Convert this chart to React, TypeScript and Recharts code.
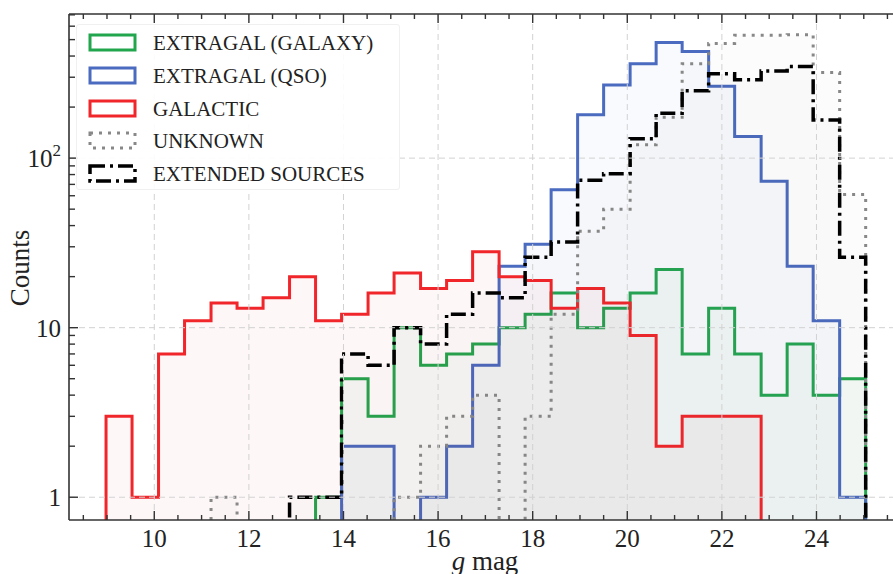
import React from "react";
import { ComposedChart, Area, XAxis, YAxis, ReferenceLine, Legend } from "recharts";

// bin edges of the g-band histograms (29 bins)
const BIN_EDGES = [
  8.98, 9.53, 10.09, 10.64, 11.2, 11.75, 12.3, 12.86, 13.41, 13.96, 14.52, 15.07, 15.63, 16.18, 16.73,
  17.29, 17.84, 18.39, 18.95, 19.5, 20.06, 20.61, 21.16, 21.72, 22.27, 22.83, 23.38, 23.93, 24.49, 25.04,
];

const GALAXY = [0, 0, 0, 0, 0, 0, 0, 0, 1, 5, 3, 10, 6, 7, 8, 10, 12, 16, 10, 13, 16, 22, 7, 13, 7, 4, 8, 4, 5];
const QSO = [0, 0, 0, 0, 0, 0, 0, 0, 0, 2, 2, 0, 1, 2, 6, 23, 31, 65, 180, 270, 360, 480, 425, 265, 134, 73, 23, 11, 1];
const GALACTIC = [3, 1, 7, 11, 14, 13, 15, 20, 11, 12, 16, 21, 17, 19, 28, 20, 19, 13, 17, 14, 9, 2, 3, 3, 3, 0, 0, 0, 0];
const UNKNOWN = [0, 0, 0, 0, 1, 0, 0, 0, 0, 0, 0, 1, 2, 3, 4, 0, 3, 12, 37, 50, 120, 174, 360, 475, 530, 530, 535, 320, 61];
const EXTENDED = [0, 0, 0, 0, 0, 0, 0, 1, 1, 7, 6, 10, 8, 12, 16, 15, 26, 32, 74, 81, 130, 184, 250, 314, 290, 327, 347, 168, 26];

const X_TICKS = [
  8.5, 9, 9.5, 10, 10.5, 11, 11.5, 12, 12.5, 13, 13.5, 14, 14.5, 15, 15.5, 16, 16.5, 17, 17.5, 18, 18.5,
  19, 19.5, 20, 20.5, 21, 21.5, 22, 22.5, 23, 23.5, 24, 24.5, 25, 25.5, 26,
];
const X_MAJOR = [10, 12, 14, 16, 18, 20, 22, 24];
const Y_TICKS = [1, 2, 3, 4, 5, 6, 7, 8, 9, 10, 20, 30, 40, 50, 60, 70, 80, 90, 100, 200, 300, 400, 500, 600, 700];
const Y_MAJOR = [1, 10, 100];

const SERIES = [
  { key: "galaxy", name: "EXTRAGAL (GALAXY)", values: GALAXY, color: "#22a64d", fill: "#22a64d", fillOpacity: 0.035, dash: undefined, width: 3 },
  { key: "qso", name: "EXTRAGAL (QSO)", values: QSO, color: "#4a6bbf", fill: "#4a6bbf", fillOpacity: 0.035, dash: undefined, width: 3 },
  { key: "galactic", name: "GALACTIC", values: GALACTIC, color: "#f0262b", fill: "#f0262b", fillOpacity: 0.035, dash: undefined, width: 3 },
  { key: "unknown", name: "UNKNOWN", values: UNKNOWN, color: "#888888", fill: "#808080", fillOpacity: 0.025, dash: "3 6", width: 3 },
  { key: "extended", name: "EXTENDED SOURCES", values: EXTENDED, color: "#000000", fill: "#000000", fillOpacity: 0.012, dash: "15 5 3 5", width: 3.5 },
];

const X_DOMAIN = [8.197, 26.4];
const Y_DOMAIN = [0.734, 708];
const FLOOR = 0.3; // empty bins drop below the log axis
const FONT = "'Liberation Serif', 'Times New Roman', serif";
const AXIS = "#333";

// step outline: rise from the floor at the first edge, drop to it at the last one
const floorRow: Record<string, number> = { x: BIN_EDGES[0] };
SERIES.forEach((s) => (floorRow[s.key] = FLOOR));
const rows = [floorRow];
BIN_EDGES.slice(0, -1).forEach((edge, i) => {
  const r: Record<string, number> = { x: edge };
  SERIES.forEach((s) => (r[s.key] = s.values[i] > 0 ? s.values[i] : FLOOR));
  rows.push(r);
});
const lastRow: Record<string, number> = { x: BIN_EDGES[BIN_EDGES.length - 1] };
SERIES.forEach((s) => (lastRow[s.key] = FLOOR));
rows.push(lastRow);

function BottomTick(p: any) {
  const major = X_MAJOR.includes(p.payload.value);
  return (
    <g>
      <line x1={p.x} x2={p.x} y1={p.y} y2={p.y - (major ? 9 : 5)} stroke={AXIS} strokeWidth={1.4} />
      {major && (
        <text x={p.x} y={p.y + 27} textAnchor="middle" fontFamily={FONT} fontSize={25} fill="#222">
          {p.payload.value}
        </text>
      )}
    </g>
  );
}

function TopTick(p: any) {
  const major = X_MAJOR.includes(p.payload.value);
  return <line x1={p.x} x2={p.x} y1={p.y} y2={p.y + (major ? 9 : 5)} stroke={AXIS} strokeWidth={1.4} />;
}

function LeftTick(p: any) {
  const v = p.payload.value;
  const major = Y_MAJOR.includes(v);
  return (
    <g>
      <line x1={p.x} x2={p.x + (major ? 9 : 6)} y1={p.y} y2={p.y} stroke={AXIS} strokeWidth={1.4} />
      {major && (
        <text x={p.x - 8} y={p.y + 9} textAnchor="end" fontFamily={FONT} fontSize={25} fill="#222">
          {v === 100 ? (
            <>
              10
              <tspan dy={-11} fontSize={17}>2</tspan>
            </>
          ) : (
            v
          )}
        </text>
      )}
    </g>
  );
}

function LegendBox() {
  return (
    <div
      style={{
        position: "relative",
        width: 324,
        height: 166,
        background: "rgba(255,255,255,0.9)",
        border: "1px solid #f0f0f0",
        borderRadius: 3,
        boxSizing: "border-box",
      }}
    >
      {SERIES.map((s, i) => (
        <div key={s.key} style={{ position: "absolute", left: 11, top: 7 + i * 32.8, height: 22, display: "flex", alignItems: "center" }}>
          <svg width={49} height={20} style={{ display: "block" }}>
            <rect x={2} y={2} width={45} height={15} fill="none" stroke={s.color} strokeWidth={s.width} strokeDasharray={s.dash} />
          </svg>
          <span style={{ marginLeft: 16, fontFamily: FONT, fontSize: 21, color: "#222", whiteSpace: "nowrap", lineHeight: "22px" }}>
            {s.name}
          </span>
        </div>
      ))}
    </div>
  );
}

export default function App() {
  return (
    <div style={{ position: "fixed", left: 0, top: 0, width: 893, height: 574, overflow: "hidden", background: "#fff" }}>
      <ComposedChart width={930} height={574} data={rows} margin={{ top: 0, right: 0, bottom: 0, left: 0 }}>
        <XAxis
          dataKey="x"
          type="number"
          domain={X_DOMAIN}
          allowDataOverflow
          ticks={X_TICKS}
          interval={0}
          tickSize={0}
          tickMargin={0}
          tickLine={false}
          tick={(p: any) => <BottomTick {...p} />}
          axisLine={{ stroke: AXIS, strokeWidth: 1.6 }}
          height={54}
        />
        <XAxis
          xAxisId="top"
          orientation="top"
          dataKey="x"
          type="number"
          domain={X_DOMAIN}
          allowDataOverflow
          ticks={X_TICKS}
          interval={0}
          tickSize={0}
          tickMargin={0}
          tickLine={false}
          tick={(p: any) => <TopTick {...p} />}
          axisLine={{ stroke: AXIS, strokeWidth: 1.6 }}
          height={14}
        />
        <YAxis
          type="number"
          scale="log"
          domain={Y_DOMAIN}
          allowDataOverflow
          ticks={Y_TICKS}
          interval={0}
          tickSize={0}
          tickMargin={0}
          tickLine={false}
          tick={(p: any) => <LeftTick {...p} />}
          axisLine={{ stroke: AXIS, strokeWidth: 1.6 }}
          width={69}
        />
        {X_MAJOR.map((v) => (
          <ReferenceLine key={"gx" + v} x={v} stroke="#d2d2d2" strokeDasharray="6 4" strokeWidth={1} />
        ))}
        {Y_MAJOR.map((v) => (
          <ReferenceLine key={"gy" + v} y={v} stroke="#d2d2d2" strokeDasharray="6 4" strokeWidth={1} />
        ))}
        {SERIES.map((s) => (
          <Area
            key={s.key}
            dataKey={s.key}
            name={s.name}
            type="stepAfter"
            baseValue={Y_DOMAIN[0]}
            stroke={s.color}
            strokeWidth={s.width}
            strokeDasharray={s.dash}
            fill={s.fill}
            fillOpacity={s.fillOpacity}
            dot={false}
            activeDot={false}
            isAnimationActive={false}
          />
        ))}
        <Legend
          layout="vertical"
          align="center"
          verticalAlign="middle"
          wrapperStyle={{ left: 76, top: 24, width: 324, height: 166 }}
          content={() => <LegendBox />}
        />
        <text x={20} y={268} transform="rotate(-90 20 268)" textAnchor="middle" dominantBaseline="central" fontFamily={FONT} fontSize={27} fill="#222">
          Counts
        </text>
        <text x={485} y={570} textAnchor="middle" fontFamily={FONT} fontSize={27} fill="#222">
          <tspan fontStyle="italic">g</tspan> mag
        </text>
      </ComposedChart>
    </div>
  );
}
